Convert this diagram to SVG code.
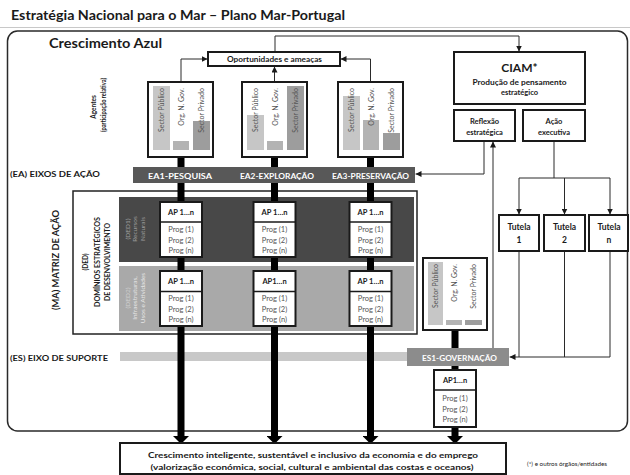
<svg xmlns="http://www.w3.org/2000/svg" width="630" height="475" viewBox="0 0 630 475">
<style>
text{font-family:Lato,"Liberation Sans",Arial,sans-serif;fill:#1a1a1a}
.b{font-weight:bold}
.box{fill:#fff;stroke:#1a1a1a;stroke-width:2}
.thin{fill:none;stroke:#2a2a2a;stroke-width:1}
.thick{fill:none;stroke:#000;stroke-width:7}
.bar1{fill:#c6c6c6}.bar2{fill:#b3b3b3}.bar3{fill:#9d9d9d}
.ag{font-size:7px;fill:#555}
.aph{font-size:7.5px;font-weight:bold;text-anchor:middle}
.prog{font-size:7.5px;fill:#555;text-anchor:middle}
.ea{font-size:8px;font-weight:bold;fill:#fff;text-anchor:middle}
.lbl{font-size:8px;font-weight:bold}
.mid{text-anchor:middle}
</style>
<defs>
<marker id="ah" viewBox="0 0 6 6" refX="6" refY="3" markerWidth="6" markerHeight="6" markerUnits="userSpaceOnUse" orient="auto"><path d="M0,0L6,3L0,6z" fill="#1a1a1a"/></marker>
<marker id="big" viewBox="0 0 8 16" refX="0" refY="8" markerWidth="8" markerHeight="16" markerUnits="userSpaceOnUse" orient="auto"><path d="M0,0L8,8L0,16z" fill="#000"/></marker>
</defs>

<!-- title and frame -->
<text x="11" y="20" class="b" font-size="14" textLength="334" lengthAdjust="spacingAndGlyphs">Estratégia Nacional para o Mar – Plano Mar-Portugal</text>
<line x1="0" y1="27.5" x2="630" y2="27.5" stroke="#c8c8c8" stroke-width="1"/>
<rect x="7.5" y="31" width="620" height="400" rx="10" fill="none" stroke="#2a2a2a" stroke-width="1.5"/>
<text x="49" y="48" class="b" font-size="13" textLength="113" lengthAdjust="spacingAndGlyphs">Crescimento Azul</text>

<!-- side labels -->
<text transform="translate(95.5,107) rotate(-90)" class="b mid" font-size="6.5">Agentes</text>
<text transform="translate(105.5,105) rotate(-90)" class="b mid" font-size="6.5" textLength="54" lengthAdjust="spacingAndGlyphs">(participação relativa)</text>
<text x="10" y="177" class="lbl" textLength="90" lengthAdjust="spacingAndGlyphs">(EA) EIXOS DE AÇÃO</text>
<text x="10" y="361" class="lbl" textLength="98" lengthAdjust="spacingAndGlyphs">(ES) EIXO DE SUPORTE</text>

<!-- MA matrix background -->
<g id="ma-matrix">
<rect x="73" y="191" width="344" height="143" fill="#fff" stroke="#222" stroke-width="1.5"/>
<text transform="translate(58.5,260) rotate(-90)" class="b mid" font-size="9" textLength="100" lengthAdjust="spacingAndGlyphs">(MA) MATRIZ DE AÇÃO</text>
<text transform="translate(88,262) rotate(-90)" class="b mid" font-size="6.5">(DED)</text>
<text transform="translate(100,262) rotate(-90)" class="b mid" font-size="6.5" textLength="90" lengthAdjust="spacingAndGlyphs">DOMÍNIOS ESTRATÉGICOS</text>
<text transform="translate(109.5,262) rotate(-90)" class="b mid" font-size="6.5" textLength="78" lengthAdjust="spacingAndGlyphs">DE DESENVOLVIMENTO</text>
</g>
<g id="ded1">
<rect x="119" y="197" width="295" height="65" fill="#484848"/>
<text transform="translate(129.5,229) rotate(-90)" class="mid" font-size="6.5" style="fill:#9c9c9c">(DED1)</text>
<text transform="translate(137,229) rotate(-90)" class="mid" font-size="6.5" style="fill:#9c9c9c">Recursos</text>
<text transform="translate(144.5,229) rotate(-90)" class="mid" font-size="6.5" style="fill:#9c9c9c">Naturais</text>
</g>
<g id="ded2">
<rect x="119" y="266" width="295" height="65" fill="#a9a9a9"/>
<text transform="translate(129.5,298) rotate(-90)" class="mid" font-size="6.5" style="fill:#cfcfcf">(DED2)</text>
<text transform="translate(137,298) rotate(-90)" class="mid" font-size="6.5" style="fill:#e6e6e6">Infraestruturas,</text>
<text transform="translate(144.5,298) rotate(-90)" class="mid" font-size="6.5" style="fill:#e6e6e6">Usos e Atividades</text>
</g>
<g id="es-axis">
<rect x="120" y="352" width="288" height="9" fill="#c8c8c8"/>
</g>

<!-- connectors -->
<g id="connectors">
<path class="thick" d="M181,157V436" marker-end="url(#big)"/>
<path class="thick" d="M274.5,157V436" marker-end="url(#big)"/>
<path class="thick" d="M370.5,157V436" marker-end="url(#big)"/>
<path class="thick" d="M455,330V436" marker-end="url(#big)"/>
<path class="thin" d="M181,82V59H207.5" marker-end="url(#ah)"/>
<path class="thin" d="M274.5,82V66.5" marker-end="url(#ah)"/>
<path class="thin" d="M370.5,83V59H340.5" marker-end="url(#ah)"/>
<path class="thin" d="M275,52V36H519V51.5" marker-end="url(#ah)"/>
<path class="thin" d="M484,141V174H415.5" marker-end="url(#ah)"/>
<path class="thin" d="M493,348V141.5" stroke="#555" marker-end="url(#ah)"/>
<path class="thin" d="M554,141V178"/>
<path class="thin" d="M519,178H610"/>
<path class="thin" d="M519,178V214.5" marker-end="url(#ah)"/>
<path class="thin" d="M564.5,178V214.5" marker-end="url(#ah)"/>
<path class="thin" d="M610,178V214.5" marker-end="url(#ah)"/>
<path class="thin" d="M519,251V357"/>
<path class="thin" d="M564.5,251V357"/>
<path class="thin" d="M610,251V357H509.5" marker-end="url(#ah)"/>
</g>

<!-- nodes -->
<g id="oportunidades">
<rect x="208" y="52" width="132" height="14" class="box" stroke-width="1.8"/>
<text x="274.5" y="62" class="b mid" font-size="7.5" textLength="95" lengthAdjust="spacingAndGlyphs">Oportunidades e ameaças</text>
</g>

<g id="agentes-ea1">
<rect x="148" y="82" width="65" height="75" class="box"/>
<rect x="153" y="86" width="17" height="64" class="bar1"/>
<rect x="173" y="141" width="16" height="9" class="bar2"/>
<rect x="193" y="121" width="17" height="29" class="bar3"/>
<text transform="translate(164,88) rotate(-90)" class="ag" text-anchor="end">Sector Público</text>
<text transform="translate(183.5,88) rotate(-90)" class="ag" text-anchor="end">Org. N. Gov.</text>
<text transform="translate(204,88) rotate(-90)" class="ag" text-anchor="end">Sector Privado</text>
</g>
<g id="agentes-ea2">
<rect x="242" y="82" width="65" height="75" class="box"/>
<rect x="247" y="115" width="17" height="35" class="bar1"/>
<rect x="267" y="141" width="16" height="9" class="bar2"/>
<rect x="287" y="86" width="17" height="64" class="bar3"/>
<text transform="translate(258,88) rotate(-90)" class="ag" text-anchor="end">Sector Público</text>
<text transform="translate(277.5,88) rotate(-90)" class="ag" text-anchor="end">Org. N. Gov.</text>
<text transform="translate(298,88) rotate(-90)" class="ag" text-anchor="end">Sector Privado</text>
</g>
<g id="agentes-ea3">
<rect x="338" y="82" width="65" height="75" class="box"/>
<rect x="343" y="96" width="17" height="54" class="bar1"/>
<rect x="363" y="120" width="16" height="30" class="bar2"/>
<rect x="383" y="133" width="17" height="17" class="bar3"/>
<text transform="translate(354,88) rotate(-90)" class="ag" text-anchor="end">Sector Público</text>
<text transform="translate(373.5,88) rotate(-90)" class="ag" text-anchor="end">Org. N. Gov.</text>
<text transform="translate(394,88) rotate(-90)" class="ag" text-anchor="end">Sector Privado</text>
</g>

<g id="ea-bar">
<rect x="133" y="167" width="282" height="16" fill="#585858"/>
<text x="180" y="178.5" class="ea" textLength="64" lengthAdjust="spacingAndGlyphs">EA1-PESQUISA</text>
<text x="277" y="178.5" class="ea" textLength="74" lengthAdjust="spacingAndGlyphs">EA2-EXPLORAÇÃO</text>
<text x="370.5" y="178.5" class="ea" textLength="77" lengthAdjust="spacingAndGlyphs">EA3-PRESERVAÇÃO</text>
</g>

<g id="ap-ded1-ea1"><rect x="160" y="202" width="42" height="55" class="box"/><line x1="160" y1="222" x2="202" y2="222" stroke="#1a1a1a" stroke-width="1.5"/>
<text x="181" y="215" class="aph">AP 1…n</text><text x="181" y="232" class="prog">Prog (1)</text><text x="181" y="242.5" class="prog">Prog (2)</text><text x="181" y="253" class="prog">Prog (n)</text></g>
<g id="ap-ded1-ea2"><rect x="253.5" y="202" width="42" height="55" class="box"/><line x1="253.5" y1="222" x2="295.5" y2="222" stroke="#1a1a1a" stroke-width="1.5"/>
<text x="274.5" y="215" class="aph">AP 1…n</text><text x="274.5" y="232" class="prog">Prog (1)</text><text x="274.5" y="242.5" class="prog">Prog (2)</text><text x="274.5" y="253" class="prog">Prog (n)</text></g>
<g id="ap-ded1-ea3"><rect x="349.5" y="202" width="42" height="55" class="box"/><line x1="349.5" y1="222" x2="391.5" y2="222" stroke="#1a1a1a" stroke-width="1.5"/>
<text x="370.5" y="215" class="aph">AP 1…n</text><text x="370.5" y="232" class="prog">Prog (1)</text><text x="370.5" y="242.5" class="prog">Prog (2)</text><text x="370.5" y="253" class="prog">Prog (n)</text></g>

<g id="ap-ded2-ea1"><rect x="160" y="271" width="42" height="55" class="box"/><line x1="160" y1="291.5" x2="202" y2="291.5" stroke="#1a1a1a" stroke-width="1.5"/>
<text x="181" y="284" class="aph">AP 1…n</text><text x="181" y="301" class="prog">Prog (1)</text><text x="181" y="311.5" class="prog">Prog (2)</text><text x="181" y="322" class="prog">Prog (n)</text></g>
<g id="ap-ded2-ea2"><rect x="253.5" y="271" width="42" height="55" class="box"/><line x1="253.5" y1="291.5" x2="295.5" y2="291.5" stroke="#1a1a1a" stroke-width="1.5"/>
<text x="274.5" y="284" class="aph">AP1…n</text><text x="274.5" y="301" class="prog">Prog (1)</text><text x="274.5" y="311.5" class="prog">Prog (2)</text><text x="274.5" y="322" class="prog">Prog (n)</text></g>
<g id="ap-ded2-ea3"><rect x="349.5" y="271" width="42" height="55" class="box"/><line x1="349.5" y1="291.5" x2="391.5" y2="291.5" stroke="#1a1a1a" stroke-width="1.5"/>
<text x="370.5" y="284" class="aph">AP 1…n</text><text x="370.5" y="301" class="prog">Prog (1)</text><text x="370.5" y="311.5" class="prog">Prog (2)</text><text x="370.5" y="322" class="prog">Prog (n)</text></g>

<g id="agentes-es1">
<rect x="423" y="258" width="64" height="72" class="box"/>
<rect x="428" y="262" width="15" height="63" class="bar1"/>
<rect x="446" y="320" width="16" height="5" class="bar2"/>
<rect x="465" y="320" width="17" height="5" class="bar3"/>
<text transform="translate(438,264) rotate(-90)" class="ag" text-anchor="end">Sector Público</text>
<text transform="translate(456.5,264) rotate(-90)" class="ag" text-anchor="end">Org. N. Gov.</text>
<text transform="translate(476,264) rotate(-90)" class="ag" text-anchor="end">Sector Privado</text>
</g>

<g id="es1-governacao">
<rect x="407" y="348" width="102" height="18" fill="#8c8c8c"/>
<text x="459.5" y="360.5" class="ea" textLength="75" lengthAdjust="spacingAndGlyphs">ES1-GOVERNAÇÃO</text>
</g>

<g id="ap-es1"><rect x="434" y="370" width="42" height="57" class="box"/><line x1="434" y1="390" x2="476" y2="390" stroke="#1a1a1a" stroke-width="1.5"/>
<text x="455" y="383" class="aph">AP1…n</text><text x="455" y="401" class="prog">Prog (1)</text><text x="455" y="411.5" class="prog">Prog (2)</text><text x="455" y="422" class="prog">Prog (n)</text></g>

<g id="ciam">
<rect x="454" y="52" width="131" height="52" class="box"/>
<text x="519.5" y="72" class="b mid" font-size="12">CIAM*</text>
<text x="519.5" y="85" class="b mid" font-size="7.5" textLength="94" lengthAdjust="spacingAndGlyphs">Produção de pensamento</text>
<text x="519.5" y="95" class="b mid" font-size="7.5">estratégico</text>
</g>
<g id="reflexao">
<rect x="454" y="110" width="61" height="31" class="box"/>
<text x="484.5" y="124" class="b mid" font-size="7.5">Reflexão</text>
<text x="484.5" y="134.5" class="b mid" font-size="7.5">estratégica</text>
</g>
<g id="acao-executiva">
<rect x="523" y="110" width="62" height="31" class="box"/>
<text x="554" y="124" class="b mid" font-size="7.5">Ação</text>
<text x="554" y="134.5" class="b mid" font-size="7.5">executiva</text>
</g>
<g id="tutela-1"><rect x="499" y="215" width="40" height="36" class="box"/>
<text x="519" y="230" class="b mid" font-size="8.5">Tutela</text><text x="519" y="243" class="b mid" font-size="8.5">1</text></g>
<g id="tutela-2"><rect x="544" y="215" width="41" height="36" class="box"/>
<text x="564.5" y="230" class="b mid" font-size="8.5">Tutela</text><text x="564.5" y="243" class="b mid" font-size="8.5">2</text></g>
<g id="tutela-n"><rect x="589" y="215" width="39" height="36" class="box"/>
<text x="609" y="230" class="b mid" font-size="8.5">Tutela</text><text x="609" y="243" class="b mid" font-size="8.5">n</text></g>

<g id="resultado">
<rect x="120" y="443" width="386" height="31" class="box"/>
<text x="313" y="457.5" class="b mid" font-size="8" textLength="330" lengthAdjust="spacingAndGlyphs">Crescimento inteligente, sustentável e inclusivo da economia e do emprego</text>
<text x="312" y="469.5" class="b mid" font-size="8" textLength="323" lengthAdjust="spacingAndGlyphs">(valorização económica, social, cultural e ambiental das costas e oceanos)</text>
</g>
<text x="527" y="466" font-size="6.3">(*) e outros órgãos/entidades</text>
</svg>
